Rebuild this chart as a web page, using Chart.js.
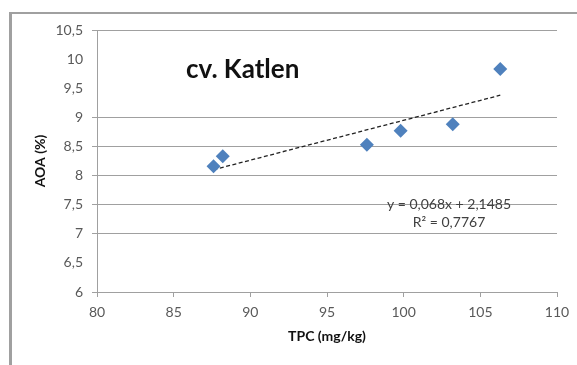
<!DOCTYPE html>
<html>
<head>
<meta charset="utf-8">
<script src="https://cdn.jsdelivr.net/npm/chart.js@4/dist/chart.umd.min.js"></script>
<style>
  html, body { margin: 0; padding: 0; background: #ffffff; }
  #wrap { position: relative; width: 577px; height: 365px; overflow: hidden; }
  #frame { position: absolute; left: 9px; top: 12px; width: 600px; height: 400px;
           border-left: 3px solid #a0a0a0; border-top: 2px solid #a0a0a0; box-sizing: border-box; }
  canvas { position: absolute; left: 0; top: 0; }
</style>
</head>
<body>
<div id="wrap">
  <div id="frame"></div>
  <canvas id="c" width="577" height="365"></canvas>
</div>
<script>
// ---- data ----
const tpc = [87.6, 88.2, 97.6, 99.8, 103.2, 106.3];      // TPC (mg/kg)
const aoa = [8.16, 8.33, 8.53, 8.77, 8.88, 9.83];        // AOA (%)
const trendX = [87.6, 106.3];                            // linear trend end points
const trendY = [8.10, 9.38];
const chartTitle = 'cv. Katlen';
const equationLines = ['y = 0,068x + 2,1485', 'R² = 0,7767'];
const xTitle = 'TPC (mg/kg)';
const yTitle = 'AOA (%)';
const xRange = [80, 110];
const yRange = [6, 10.5];

const pts = tpc.map((x, i) => ({ x: x, y: aoa[i] }));
const trend = trendX.map((x, i) => ({ x: x, y: trendY[i] }));

const gridCol = '#a0a0a0';
const tickCol = '#595959';
const noGrid = [10, 9.5, 6.5];

const textPlugin = {
  id: 'texts',
  afterDatasetsDraw(chart) {
    const { ctx } = chart;
    ctx.save();
    ctx.fillStyle = '#111111';
    ctx.font = 'bold 26px Lato';
    ctx.textAlign = 'left';
    ctx.textBaseline = 'middle';
    ctx.fillText(chartTitle, 186, 70);
    ctx.fillStyle = '#404040';
    ctx.font = '14px Lato';
    ctx.textAlign = 'center';
    ctx.fillText(equationLines[0], 449, 204);
    ctx.fillText(equationLines[1], 449, 222);
    ctx.restore();
  }
};

new Chart(document.getElementById('c'), {
  type: 'scatter',
  data: {
    datasets: [
      {
        data: pts,
        pointStyle: 'rectRot',
        pointRadius: 7,
        pointHoverRadius: 7,
        backgroundColor: '#4f81bd',
        borderColor: '#4f81bd',
        borderWidth: 0,
        order: 1
      },
      {
        type: 'line',
        data: trend,
        borderColor: '#222222',
        borderWidth: 1.3,
        borderDash: [4, 2.5],
        pointRadius: 0,
        fill: false,
        order: 2
      }
    ]
  },
  options: {
    responsive: false,
    animation: false,
    events: [],
    layout: { padding: { left: 0, top: 30, right: 20, bottom: 0 } },
    plugins: { legend: { display: false }, tooltip: { enabled: false } },
    scales: {
      x: {
        type: 'linear',
        min: xRange[0], max: xRange[1],
        ticks: { stepSize: 5, color: tickCol, font: { family: 'Lato', size: 14 }, padding: 7 },
        grid: { drawOnChartArea: false, drawTicks: true, tickLength: 5, color: gridCol, lineWidth: 1 },
        border: { color: gridCol, width: 1 },
        title: { display: true, text: xTitle, color: '#111111',
                 font: { family: 'Lato', size: 14, weight: 'bold' }, padding: { top: 0, bottom: 20 } },
        afterFit(s) { s.height = 73; }
      },
      y: {
        type: 'linear',
        min: yRange[0], max: yRange[1],
        ticks: {
          stepSize: 0.5, color: tickCol, font: { family: 'Lato', size: 14 }, padding: 9,
          callback: v => String(Math.round(v * 10) / 10).replace('.', ',')
        },
        grid: {
          tickLength: 5, lineWidth: 1,
          color: c => (c.tick && noGrid.includes(Math.round(c.tick.value * 10) / 10)) ? 'rgba(0,0,0,0)' : gridCol
        },
        border: { color: gridCol, width: 1 },
        title: { display: true, text: yTitle, color: '#111111',
                 font: { family: 'Lato', size: 14, weight: 'bold' }, padding: { top: 32, bottom: 0 } },
        afterFit(s) { s.width = 97; }
      }
    }
  },
  plugins: [textPlugin]
});
</script>
</body>
</html>
